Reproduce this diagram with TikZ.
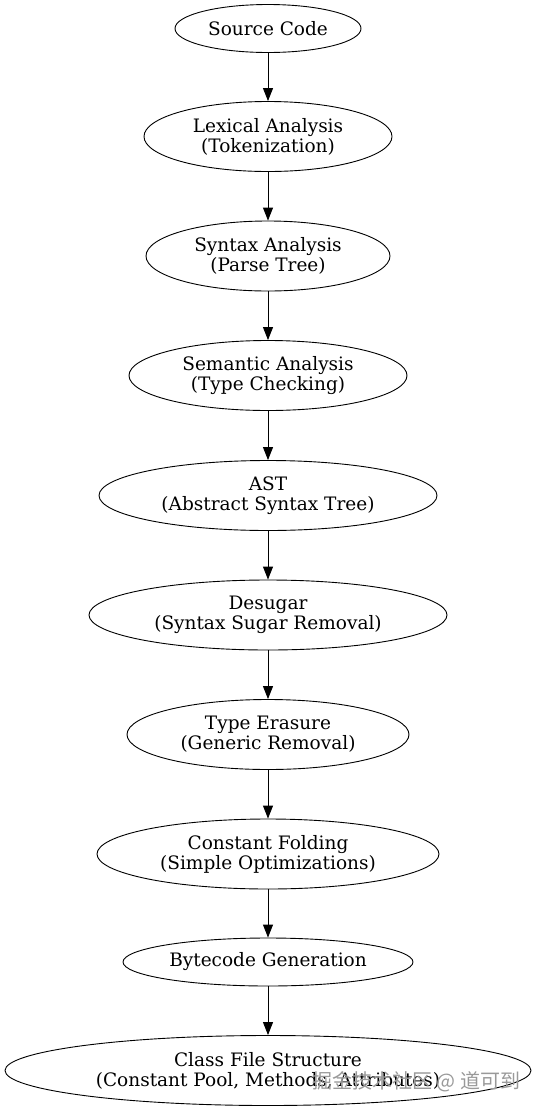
\documentclass[tikz,border=0pt]{standalone}
\usepackage{fontspec}
\setmainfont{DejaVu Serif}
\newfontfamily\cjkfont{Noto Sans CJK SC}
\usetikzlibrary{shapes.geometric,arrows.meta}

\begin{document}
\begin{tikzpicture}[x=1pt,y=-1pt,
  stage/.style={ellipse,draw,line width=0.9pt,inner sep=0pt,align=center,
    font=\fontsize{18.5}{20}\selectfont},
  flow/.style={line width=0.9pt,-{Triangle[length=13pt,width=10pt]}}]
\useasboundingbox (0,0) rectangle (537,1112);
% pipeline stages, top to bottom
\node[stage,minimum width=186,minimum height=48] (src) at (268,28.5) {Source Code};
\node[stage,minimum width=248,minimum height=70] (lex) at (268,136.5) {Lexical Analysis\\(Tokenization)};
\node[stage,minimum width=244,minimum height=70] (syn) at (268,256) {Syntax Analysis\\(Parse Tree)};
\node[stage,minimum width=278,minimum height=70] (sem) at (268,375.5) {Semantic Analysis\\(Type Checking)};
\node[stage,minimum width=338,minimum height=70] (ast) at (268,495.5) {AST\\(Abstract Syntax Tree)};
\node[stage,minimum width=358,minimum height=70] (desugar) at (268,615) {Desugar\\(Syntax Sugar Removal)};
\node[stage,minimum width=282,minimum height=70] (erase) at (268,734.5) {Type Erasure\\(Generic Removal)};
\node[stage,minimum width=342,minimum height=70] (fold) at (268,854) {Constant Folding\\(Simple Optimizations)};
\node[stage,minimum width=290,minimum height=48] (gen) at (268,962) {Bytecode Generation};
\node[stage,minimum width=526,minimum height=70] (cls) at (268,1070.5) {Class File Structure\\(Constant Pool, Methods, Attributes)};
% arrows
\draw[flow] (src) -- (lex);
\draw[flow] (lex) -- (syn);
\draw[flow] (syn) -- (sem);
\draw[flow] (sem) -- (ast);
\draw[flow] (ast) -- (desugar);
\draw[flow] (desugar) -- (erase);
\draw[flow] (erase) -- (fold);
\draw[flow] (fold) -- (gen);
\draw[flow] (gen) -- (cls);
% watermark
\node[right,inner sep=0pt,text=black!40,font=\cjkfont\fontsize{20}{22}\selectfont] (mark) at (312,1082) {掘金技术社区 @ 道可到};
\end{tikzpicture}
\end{document}
